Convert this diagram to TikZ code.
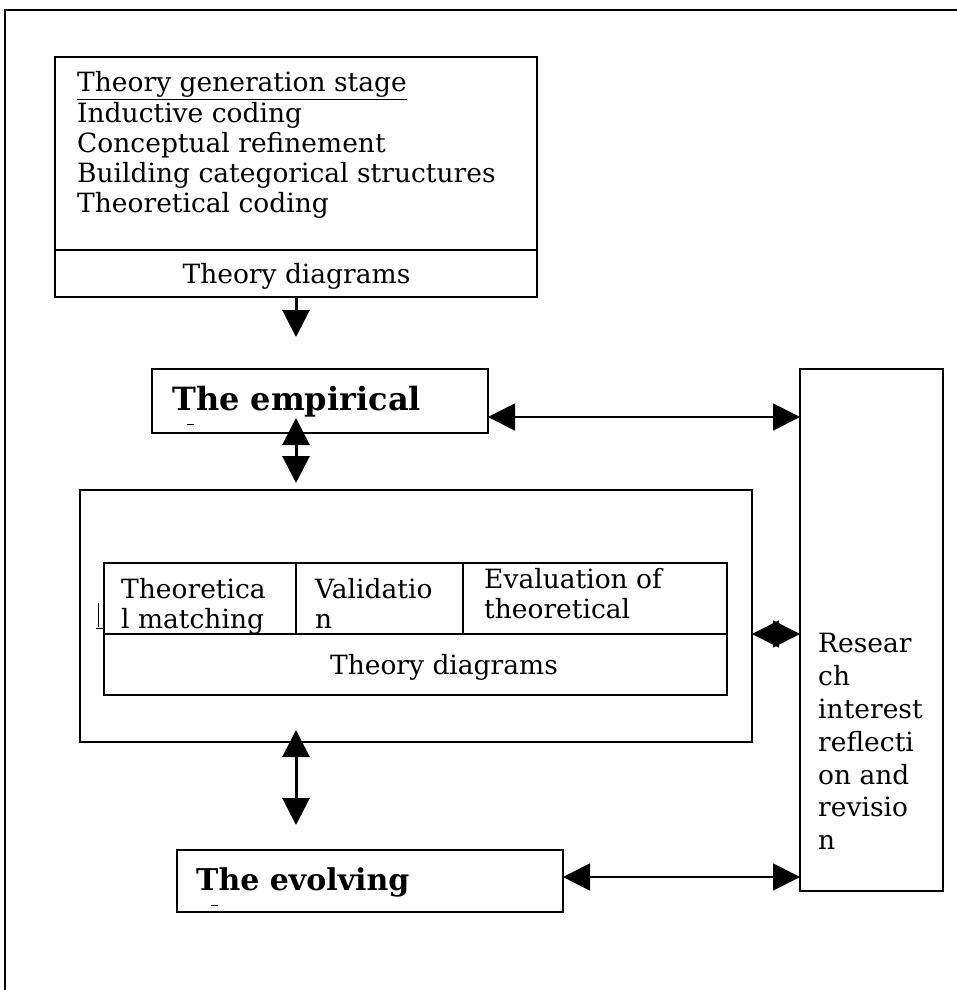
\documentclass[tikz,border=0pt]{standalone}
\usepackage{fontspec}
\setmainfont{DejaVu Serif}
\usetikzlibrary{arrows.meta,positioning}

\tikzset{
  box/.style={draw, line width=1.8pt, inner sep=0pt, outer sep=0pt},
  txt/.style={inner sep=0pt, anchor=base west, align=left,
    font=\fontsize{26.5}{30}\selectfont},
  bigtxt/.style={inner sep=0pt, anchor=base west,
    font=\fontsize{32}{36}\selectfont\bfseries},
  tip/.tip={Triangle[length=27pt,width=27pt]},
  oneway/.style={-tip, line width=3pt},
  twoway/.style={tip-tip, line width=1.8pt}
}

\begin{document}
\begin{tikzpicture}[x=1pt,y=-1pt]
\useasboundingbox (0,0) rectangle (957,990);

% frame round the page
\draw[line width=1.8pt] (5,990) -- (5,10) -- (957,10);

\node (genbox) [box, minimum width=482pt, minimum height=193pt] at (296,153.5) {};
\node (gendiag) [box, minimum width=482pt, minimum height=47pt] at (296,273.5) {};
\node (gendiagtxt) [txt, anchor=base] at (296.5,283) {Theory diagrams};
\foreach \t [count=\i] in {\underline{Theory generation stage}, Inductive coding,
    Conceptual refinement, Building categorical structures, Theoretical coding}
  \node (gen\i) [txt] at (77,62+30*\i) {\t};

\node (empbox) [box, minimum width=336pt, minimum height=64pt] at (320,401) {};
\node (emptxt) [bigtxt] at (172,410) {The empirical};
\draw[line width=1pt] (187,424) -- (194,424);

\node (bigbox) [box, minimum width=672pt, minimum height=252pt] at (416,616) {};
\node (matchcell) [box, minimum width=192pt, minimum height=71pt] at (200,598.5) {};
\node (validcell) [box, minimum width=167pt, minimum height=71pt] at (379.5,598.5) {};
\node (evalcell) [box, minimum width=264pt, minimum height=71pt] at (595,598.5) {};
% base of a two line text is its last line
\node (matchtxt) [txt] at (121,628) {Theoretica\\l matching};
\node (validtxt) [txt] at (315,628) {Validatio\\n};
\node (evaltxt) [txt] at (484,618) {Evaluation of\\theoretical};
\node (tabdiag) [box, fill=white, minimum width=623pt, minimum height=61pt] at (415.5,664.5) {};
\node (tabdiagtxt) [txt, anchor=base] at (444,674) {Theory diagrams};
\draw[line width=1pt] (98,603) -- (98,627) (96,628) -- (103,628);

\node (evolbox) [box, minimum width=386pt, minimum height=62pt] at (370,881) {};
\node (evoltxt) [bigtxt, font=\fontsize{30}{34}\selectfont\bfseries] at (196,890) {The evolving};
\draw[line width=1pt] (211,905) -- (218,905);

\node (resbox) [box, minimum width=143pt, minimum height=522pt] at (871.5,630) {};
\foreach \t [count=\i] in {Resear, ch, interest, reflecti, on and, revisio, n}
  \node (res\i) [txt] at (818,620+32.8*\i) {\t};

\coordinate (col) at (296,0);

\draw[oneway, shorten >=32pt] (gendiag.south -| col) -- (empbox.north -| col);
\draw[twoway, line width=3pt, shorten <=-15pt, shorten >=7pt] (empbox.south -| col) -- (bigbox.north -| col);
\draw[twoway, line width=3pt, shorten <=-12pt, shorten >=25pt] (bigbox.south -| col) -- (evolbox.north -| col);

\draw[twoway] (empbox.east |- 0,417) -- (resbox.west |- 0,417);
\draw[twoway] (bigbox.east |- 0,634) -- (resbox.west |- 0,634);
\draw[twoway] (evolbox.east |- 0,877) -- (resbox.west |- 0,877);

\end{tikzpicture}
\end{document}
